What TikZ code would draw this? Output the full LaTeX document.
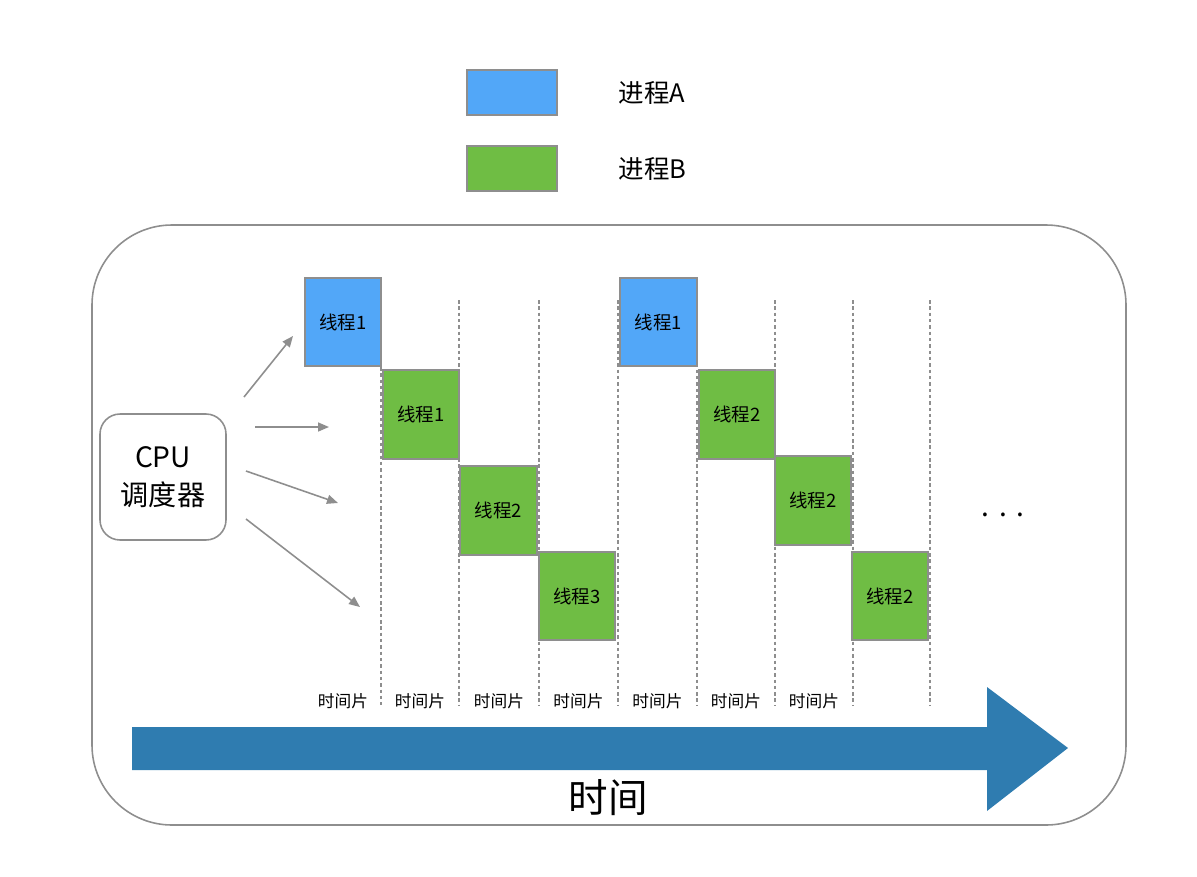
\documentclass[tikz,border=0pt]{standalone}
\usepackage{fontspec}
\setmainfont{Noto Sans CJK SC}
\usetikzlibrary{positioning,arrows.meta}

\definecolor{procA}{HTML}{52A7F8}
\definecolor{procB}{HTML}{6FBD44}
\definecolor{timeblue}{HTML}{2F7CB0}
\definecolor{edgegray}{HTML}{8E8E8E}

\tikzset{
	thread/.style={draw=edgegray, line width=0.9pt, minimum width=1.53cm, minimum height=1.77cm, inner sep=0pt, font=\fontsize{10.5}{12}\selectfont},
	legendbox/.style={draw=edgegray, line width=0.9pt, minimum width=1.8cm, minimum height=0.9cm, inner sep=0pt},
	legendtext/.style={font=\fontsize{14.5}{17}\selectfont, anchor=west},
	slot/.style={edgegray, line width=0.8pt, dash pattern=on 2pt off 1.6pt},
	slice/.style={font=\fontsize{9.5}{11}\selectfont},
	dispatch/.style={->, edgegray, line width=0.9pt}
}

\begin{document}
\begin{tikzpicture}[x=0.02cm, y=-0.02cm, >={Triangle[length=2.2mm,width=1.8mm]}]
				\useasboundingbox (0,0) rectangle (1197,876);

				% legend
				\node[legendbox, fill=procA] (keyA) at (512,92.5) {};
				\node[legendbox, fill=procB] (keyB) at (512,168.5) {};
				\node[legendtext, right=1.1cm of keyA] (labA) {进程A};
				\node[legendtext, right=1.1cm of keyB] (labB) {进程B};

				% frame
				\draw[edgegray, line width=0.9pt, rounded corners=1.6cm] (92,225) rectangle (1126,825);

				% time slots
				\foreach \x in {459,539,618,697,775,853,930}
					{
						\draw[slot] (\x,300) -- (\x,705);
					}
				\draw[slot] (381,367) -- (381,705);

				\foreach \xa/\xb [count=\i] in {305/381,381/459,459/539,539/618,618/697,697/775,775/853}
					{
						\node[slice] (s\i) at ({(\xa+\xb)/2},701) {时间片};
					}

				% threads
				\node[thread, fill=procA] (t1) at (343,322) {线程1};
				\node[thread, fill=procB] (t2) at (421,414.5) {线程1};
				\node[thread, fill=procB] (t3) at (498.5,510.5) {线程2};
				\node[thread, fill=procB] (t4) at (577,596) {线程3};
				\node[thread, fill=procA] (t5) at (658.5,322) {线程1};
				\node[thread, fill=procB] (t6) at (737,414.5) {线程2};
				\node[thread, fill=procB] (t7) at (813,500.5) {线程2};
				\node[thread, fill=procB] (t8) at (890,596) {线程2};
				\node[font=\fontsize{16}{18}\selectfont] (more) at (1003,515) {.\,\,.\,\,.};

				% scheduler
				\node[draw=edgegray, line width=0.9pt, rounded corners=0.4cm, minimum width=2.52cm, minimum height=2.52cm, align=center, font=\fontsize{16}{21.5}\selectfont] (cpu) at (163,477) {CPU\\调度器};

				\coordinate (s1a) at (244,397); \coordinate (e1a) at (293,336);
				\coordinate (s2a) at (255,427); \coordinate (e2a) at (329,427);
				\coordinate (s3a) at (246,471); \coordinate (e3a) at (338,503);
				\coordinate (s4a) at (246,519); \coordinate (e4a) at (360,607);
				\foreach \i in {1,2,3,4}
					{
						\draw[dispatch] (s\i a) -- (e\i a);
					}

				% time axis
				\fill[timeblue] (132,727) -- (987,727) -- (987,687) -- (1068,748) -- (987,811) -- (987,770) -- (132,770) -- cycle;
				\node[font=\fontsize{22.5}{26}\selectfont] (axis) at (608,798) {时间};
			\end{tikzpicture}
\end{document}
